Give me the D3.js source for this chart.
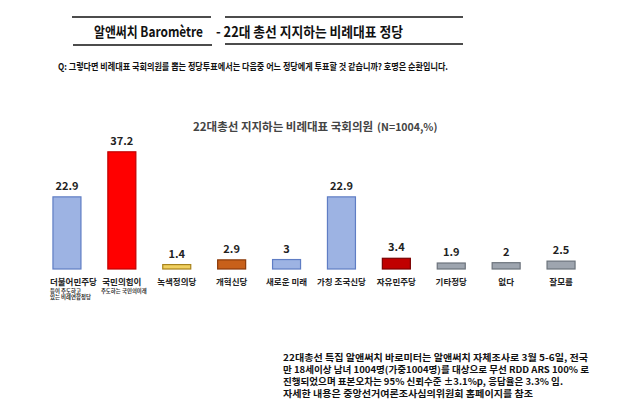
<!DOCTYPE html>
<html><head><meta charset="utf-8">
<script src="https://cdn.jsdelivr.net/npm/d3@7/dist/d3.min.js"></script>
<style>
html,body{margin:0;padding:0;background:#fff;}
svg{display:block;font-family:"Noto Sans CJK KR","Noto Sans",sans-serif;}
</style></head>
<body>
<script>
const categories = ["더불어민주당","국민의힘이","녹색정의당","개혁신당","새로운 미래","가칭 조국신당","자유민주당","기타정당","없다","잘모름"];
const subLabels = [["등이 주도하고","있는 비례연합정당"],["주도하는 국민의미래"],[],[],[],[],[],[],[],[]];
const values = [22.9,37.2,1.4,2.9,3,22.9,3.4,1.9,2,2.5];
const fills = ["#9db3e3","#ff0000","#f0d060","#c8601a","#9db3e3","#9db3e3","#c00000","#9ea5af","#9ea5af","#9ea5af"];
const strokes = ["#5f7dc4","#c00000","#a8831c","#8a3a0a","#5f7dc4","#5f7dc4","#7a0000","#6c737c","#6c737c","#6c737c"];
const titleLeft = "알앤써치 Baromètre";
const titleRight = "- 22대 총선  지지하는 비례대표 정당";
const question = "Q: 그렇다면 비례대표 국회의원를 뽑는 정당투표에서는 다음중 어느 정당에게 투표할 것 같습니까? 호명은 순환입니다.";
const chartTitle = "22대총선 지지하는 비례대표 국회의원";
const chartTitleN = "(N=1004,%)";
const notes = ["22대총선 특집 알앤써치 바로미터는 알앤써치 자체조사로  3월 5-6일, 전국",
"만 18세이상 남녀 1004명(가중1004명)를 대상으로 무선 RDD ARS 100% 로",
"진행되었으며 표본오차는  95% 신뢰수준 ±3.1%p, 응답율은 3.3% 임.",
"자세한 내용은 중앙선거여론조사심의위원회 홈페이지를 참조"];
const noteWidths = [305, 306, 280, 250];

const W = 620, H = 416;
const svg = d3.select("body").append("svg").attr("width", W).attr("height", H);

// header lines
const hl = [[72,211,17],[225,463,17],[73,212,45],[225,463,44]];
svg.selectAll("line.h").data(hl).enter().append("line")
  .attr("x1", d=>d[0]).attr("x2", d=>d[1]).attr("y1", d=>d[2]).attr("y2", d=>d[2])
  .attr("stroke","#111").attr("stroke-width",1.6);
svg.append("text").attr("x",94).attr("y",37).attr("text-anchor","start")
  .attr("font-size",14).attr("font-weight",700).attr("fill","#111")
  .attr("textLength",109).attr("lengthAdjust","spacingAndGlyphs").text(titleLeft);
svg.append("text").attr("x",216).attr("y",37).attr("text-anchor","start")
  .attr("font-size",14).attr("font-weight",700).attr("fill","#111")
  .attr("textLength",187).attr("lengthAdjust","spacingAndGlyphs").text(titleRight);
svg.append("text").attr("x",58).attr("y",70).attr("font-size",9).attr("font-weight",700)
  .attr("fill","#111").attr("textLength",390).attr("lengthAdjust","spacingAndGlyphs").text(question);

// chart title
const ct = svg.append("text").attr("x",193).attr("y",131).attr("fill","#444").attr("font-weight",700);
ct.append("tspan").attr("font-size",11.5).text(chartTitle);
ct.append("tspan").attr("font-size",10.5).attr("dx",4).text(chartTitleN);

const x = d3.scaleBand().domain(categories).range([39.5,588.5]).paddingInner(0.49).paddingOuter(0.245);
const y = d3.scaleLinear().domain([0,40]).range([269,143]);

const g = svg.append("g");
g.selectAll("rect.bar").data(values).enter().append("rect")
  .attr("x",(d,i)=>x(categories[i])).attr("width",x.bandwidth())
  .attr("y",d=>y(d)).attr("height",d=>y(0)-y(d))
  .attr("fill",(d,i)=>fills[i]).attr("stroke",(d,i)=>strokes[i]).attr("stroke-width",1.2);

g.selectAll("text.val").data(values).enter().append("text")
  .attr("x",(d,i)=>x(categories[i])+x.bandwidth()/2).attr("y",d=>y(d)-7)
  .attr("text-anchor","middle").attr("font-size",11).attr("font-weight",700).attr("fill","#222")
  .text(d=>d);

g.selectAll("text.cat").data(categories).enter().append("text")
  .attr("x",(d,i)=> i===0 ? x(d)-3 : x(d)+x.bandwidth()/2)
  .attr("y",285).attr("text-anchor",(d,i)=> i===0 ? "start" : "middle")
  .attr("font-size",8.5).attr("font-weight",700).attr("fill","#222").text(d=>d);

subLabels.forEach((lines,i)=>{
  lines.forEach((t,j)=>{
    g.append("text")
      .attr("x", i===0 ? x(categories[i])-3 : x(categories[i])+x.bandwidth()/2+2)
      .attr("y", 292.5 + j*6.8).attr("text-anchor", i===0 ? "start" : "middle")
      .attr("font-size",5.4).attr("font-weight",700).attr("fill","#333").text(t);
  });
});

svg.selectAll("text.note").data(notes).enter().append("text")
  .attr("x",283).attr("y",(d,i)=>361+i*12).attr("font-size",9).attr("font-weight",700)
  .attr("fill","#111").attr("textLength",(d,i)=>noteWidths[i]).attr("lengthAdjust","spacingAndGlyphs")
  .text(d=>d);
</script>
</body></html>
